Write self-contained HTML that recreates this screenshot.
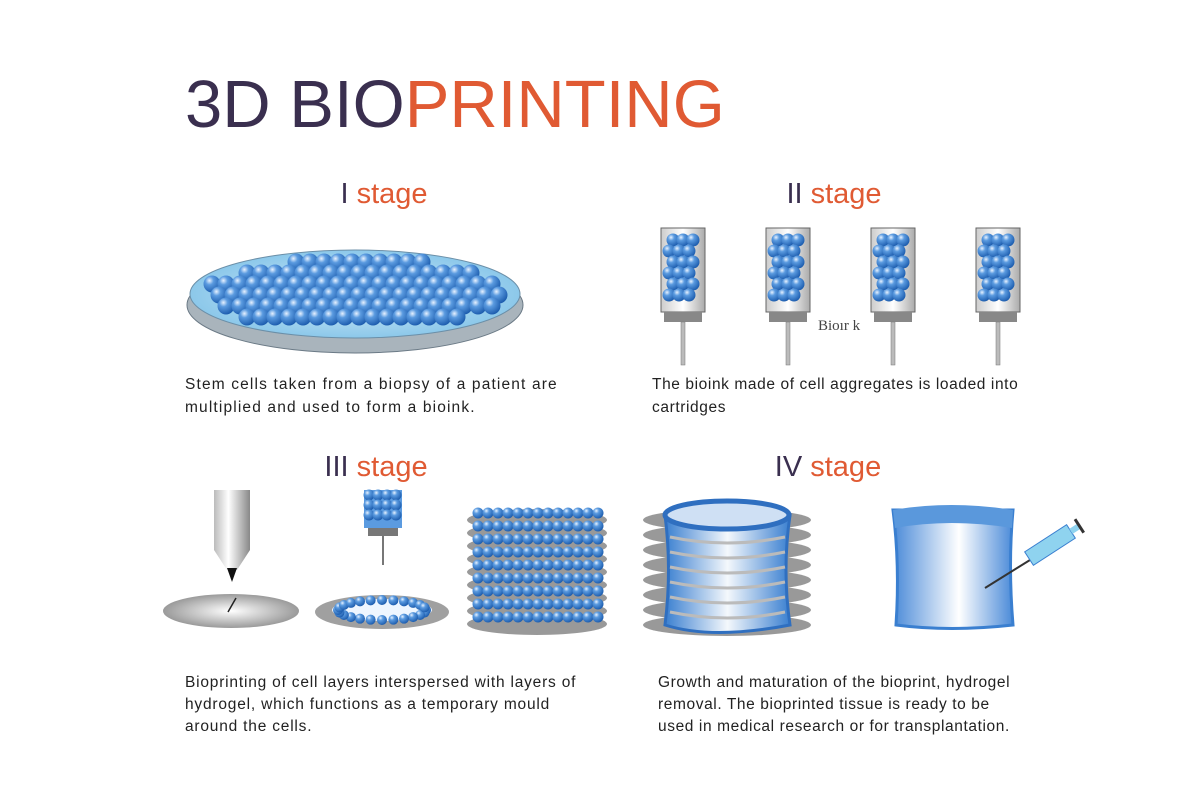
<!DOCTYPE html>
<html><head><meta charset="utf-8"><style>
body{margin:0;background:#fff;width:1200px;height:800px;overflow:hidden;font-family:"Liberation Sans",sans-serif}
</style></head><body>
<svg id="s" width="1200" height="800" xmlns="http://www.w3.org/2000/svg">
<defs>
<radialGradient id="b" cx="0.35" cy="0.3" r="0.7"><stop offset="0" stop-color="#e8f2ff"/><stop offset="0.35" stop-color="#5b9be0"/><stop offset="1" stop-color="#1f5fb0"/></radialGradient>
<radialGradient id="dish" cx="0.5" cy="0.5" r="0.5"><stop offset="0" stop-color="#d8eefa"/><stop offset="1" stop-color="#8cc8ea"/></radialGradient>
<radialGradient id="gd" cx="0.5" cy="0.5" r="0.5"><stop offset="0" stop-color="#fff"/><stop offset="1" stop-color="#9a9a9a"/></radialGradient>
<linearGradient id="cyl" x1="0" x2="1"><stop offset="0" stop-color="#3a7fd0"/><stop offset="0.5" stop-color="#f4f8fc"/><stop offset="1" stop-color="#3a7fd0"/></linearGradient>
<linearGradient id="cyl2" x1="0" x2="1"><stop offset="0" stop-color="#4a8ad8"/><stop offset="0.55" stop-color="#ffffff"/><stop offset="1" stop-color="#4a8ad8"/></linearGradient>
<linearGradient id="pen" x1="0" x2="1"><stop offset="0" stop-color="#bbb"/><stop offset="0.4" stop-color="#fff"/><stop offset="1" stop-color="#888"/></linearGradient>
<linearGradient id="tube" x1="0" x2="1"><stop offset="0" stop-color="#ccc"/><stop offset="0.5" stop-color="#fff"/><stop offset="1" stop-color="#aaa"/></linearGradient>
</defs>
<text x="185" y="127" font-size="67" fill="#3a2f4f">3D BIO<tspan fill="#e05a33">PRINTING</tspan></text>
<g font-size="29" text-anchor="middle" fill="#3a2f4f">
<text x="384" y="203">I <tspan fill="#e05a33">stage</tspan></text>
<text x="834" y="203">II <tspan fill="#e05a33">stage</tspan></text>
<text x="376" y="476">III <tspan fill="#e05a33">stage</tspan></text>
<text x="828" y="476">IV <tspan fill="#e05a33">stage</tspan></text>
</g>
<g font-size="15.5" fill="#222" letter-spacing="1.15">
<text x="185" y="389">Stem cells taken from a biopsy of a patient are</text>
<text x="185" y="412">multiplied and used to form a bioink.</text>
<text x="652" y="389" letter-spacing="0.6">The bioink made of cell aggregates is loaded into</text>
<text x="652" y="412" letter-spacing="0.6">cartridges</text>
<text x="185" y="687" letter-spacing="0.8">Bioprinting of cell layers interspersed with layers of</text>
<text x="185" y="709" letter-spacing="0.8">hydrogel, which functions as a temporary mould</text>
<text x="185" y="731" letter-spacing="0.8">around the cells.</text>
<text x="658" y="687" letter-spacing="0.6">Growth and maturation of the bioprint, hydrogel</text>
<text x="658" y="709" letter-spacing="0.6">removal. The bioprinted tissue is ready to be</text>
<text x="658" y="731" letter-spacing="0.6">used in medical research or for transplantation.</text>
</g>
<text x="818" y="330" font-size="15" fill="#444" font-family="Liberation Serif">Bioır k</text>
<ellipse cx="355" cy="305" rx="168" ry="48" fill="#a9b4bc" stroke="#6b7a86"/>
<ellipse cx="355" cy="294" rx="165" ry="44" fill="url(#dish)" stroke="#6b8fa8"/>
<g id="dishballs"></g>
<g id="carts"></g>
<ellipse cx="231" cy="611" rx="68" ry="17" fill="url(#gd)"/>
<path d="M214 490h36v60l-13 20h-10l-13-20z" fill="url(#pen)"/>
<path d="M227 568l5 14 5-14z" fill="#111"/>
<line x1="236" y1="598" x2="228" y2="612" stroke="#222" stroke-width="1.5"/>
<ellipse cx="382" cy="612" rx="67" ry="17" fill="#a0a0a0"/>
<ellipse cx="382" cy="610" rx="50" ry="11" fill="#eef6ff"/>
<rect x="364" y="490" width="38" height="38" fill="#5b9be0"/>
<rect x="368" y="528" width="30" height="8" fill="#777"/>
<line x1="383" y1="536" x2="383" y2="565" stroke="#777" stroke-width="2"/>
<g id="s3"></g>
<g id="bands"></g>
<path d="M665 515 Q672 570 665 625 Q712 640 790 625 Q782 570 790 515z" fill="url(#cyl)" stroke="#2f6fc0" stroke-width="3"/>
<g id="rings"></g>
<ellipse cx="727" cy="515" rx="62" ry="14" fill="#cfe0f4" stroke="#2f6fc0" stroke-width="5"/>
<path d="M893 510 Q900 565 896 625 Q950 632 1013 625 Q1008 565 1013 510z" fill="url(#cyl2)" stroke="#3a7fd0" stroke-width="3"/>
<path d="M893 510 Q950 500 1013 510 L1012 528 Q950 518 895 528z" fill="#5a98dc"/>
<line x1="985" y1="588" x2="1030" y2="560" stroke="#333" stroke-width="2"/>
<g transform="translate(1050,545) rotate(-33)">
<rect x="-25" y="-8" width="50" height="16" fill="#8fd3ef" stroke="#3a7fd0"/>
<rect x="25" y="-3" width="10" height="6" fill="#8fd3ef"/>
<line x1="35" y1="-8" x2="35" y2="8" stroke="#333" stroke-width="3"/>
</g>
</svg>
<script>
var NS="http://www.w3.org/2000/svg";
function c(g,x,y,r){var e=document.createElementNS(NS,"circle");e.setAttribute("cx",x);e.setAttribute("cy",y);e.setAttribute("r",r);e.setAttribute("fill","url(#b)");g.appendChild(e);}
function el(g,tag,a){var e=document.createElementNS(NS,tag);for(var k in a)e.setAttribute(k,a[k]);g.appendChild(e);return e;}
var d=document.getElementById("dishballs");
for(var y=262;y<=326;y+=11)for(var x=205;x<=510;x+=14){var xx=x+((y/11|0)%2)*7;var dx=(xx-355)/150,dy=(y-294)/36;if(dx*dx+dy*dy<1)c(d,xx,y,8.5);}
var cs=document.getElementById("carts");
[683,788,893,998].forEach(function(cx){
el(cs,"rect",{x:cx-22,y:228,width:44,height:84,fill:"url(#tube)",stroke:"#666"});
for(var y=240;y<=305;y+=11)for(var x=cx-14;x<=cx+10;x+=10)c(cs,x+((y/11|0)%2)*4,y,6.5);
el(cs,"rect",{x:cx-19,y:312,width:38,height:10,fill:"#888"});
el(cs,"rect",{x:cx-2,y:322,width:4,height:43,fill:"#bbb",stroke:"#777","stroke-width":0.5});
});
var s3=document.getElementById("s3");
for(var y=495;y<=524;y+=10)for(var x=369;x<=397;x+=9)c(s3,x,y,5.5);
for(var a=0;a<24;a++){var t=a/24*Math.PI*2;c(s3,382+44*Math.cos(t),610+10*Math.sin(t),5);}
for(var i=0;i<9;i++){var y=517+i*13;el(s3,"ellipse",{cx:537,cy:y+3,rx:70,ry:11,fill:"#999"});}
for(var i=0;i<9;i++){var y=513+i*13;for(var x=478;x<=598;x+=10)c(s3,x,y,5.5);}
var bd=document.getElementById("bands");
for(var i=0;i<8;i++)el(bd,"ellipse",{cx:727,cy:520+i*15,rx:84,ry:11,fill:"#999"});
var rg=document.getElementById("rings");
for(var i=1;i<7;i++)el(rg,"path",{d:"M670 "+(522+i*15)+" Q727 "+(534+i*15)+" 785 "+(522+i*15),stroke:"#bbb","stroke-width":3,fill:"none"});
</script>
</body></html>
